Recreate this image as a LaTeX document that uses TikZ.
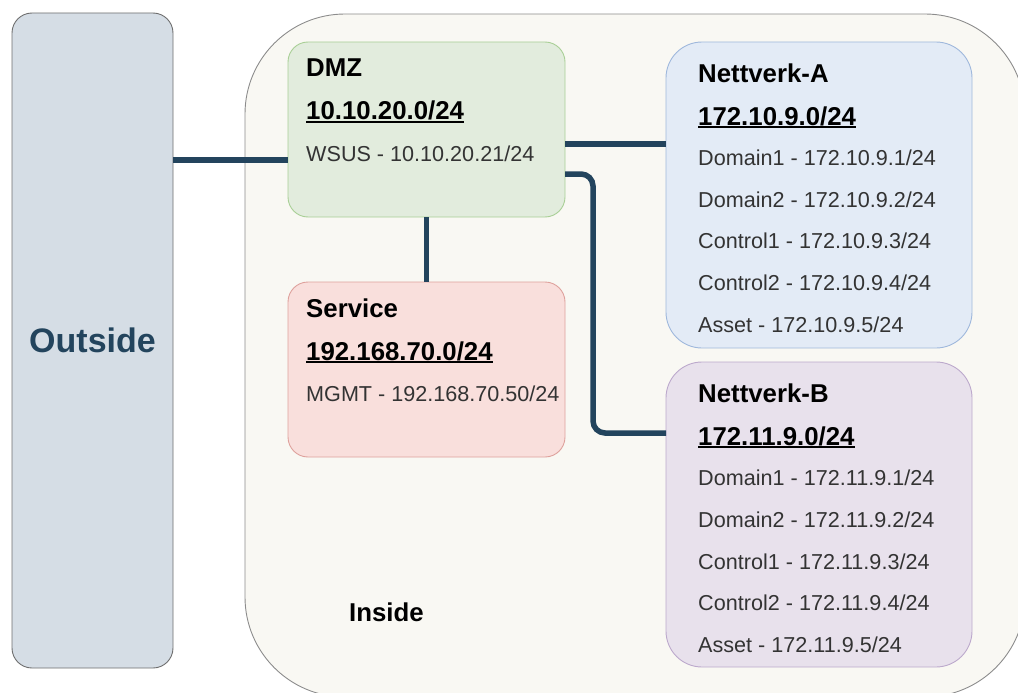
\documentclass[tikz,border=0pt]{standalone}
\usepackage{fontspec}
\setmainfont{Liberation Sans}

\definecolor{outfill}{HTML}{D5DDE5}
\definecolor{outdraw}{HTML}{6E6E6E}
\definecolor{outtext}{HTML}{23445D}
\definecolor{infill}{HTML}{F9F8F3}
\definecolor{indraw}{HTML}{8C8C8C}
\definecolor{dmzfill}{HTML}{E2ECDD}
\definecolor{dmzdraw}{HTML}{A9CF96}
\definecolor{srvfill}{HTML}{F9DFDC}
\definecolor{srvdraw}{HTML}{DEA19C}
\definecolor{afill}{HTML}{E3EBF6}
\definecolor{adraw}{HTML}{9FB8DC}
\definecolor{bfill}{HTML}{E8E1EC}
\definecolor{bdraw}{HTML}{BCA9CC}
\definecolor{linkcol}{HTML}{23445D}
\definecolor{bodygray}{HTML}{333333}

% subnet address with a heavy underline just below the baseline
\newcommand\netaddr[1]{\sbox0{#1}\rlap{\vrule width\wd0 height -1pt depth 2.8pt}\usebox0}

\tikzset{
  zone/.style={draw, rectangle, rounded corners=20pt, anchor=north west,
    inner sep=0pt, outer sep=0pt, line width=0.9pt},
  titletext/.style={anchor=base west, inner sep=0pt,
    font=\fontsize{25.8}{30}\selectfont\bfseries},
  bodytext/.style={anchor=base west, inner sep=0pt, text=bodygray,
    font=\fontsize{21.6}{26}\selectfont},
  link/.style={draw=linkcol, line width=5.5pt},
}

\begin{document}
\begin{tikzpicture}[x=1pt, y=-1pt]
\clip (0,0) rectangle (1018,693);
\useasboundingbox (0,0) rectangle (1018,693);

% outer zones
\node[zone, fill=infill, draw=indraw, rounded corners=100pt,
  minimum width=780pt, minimum height=683pt] (inside) at (245,14) {};
\node[zone, fill=outfill, draw=outdraw,
  minimum width=161pt, minimum height=655pt] (outside) at (12,13) {};

% network segments
\node[zone, fill=dmzfill, draw=dmzdraw,
  minimum width=277pt, minimum height=175pt] (dmz) at (288,42) {};
\node[zone, fill=srvfill, draw=srvdraw,
  minimum width=277pt, minimum height=175pt] (service) at (288,282) {};
\node[zone, fill=afill, draw=adraw, rounded corners=36pt,
  minimum width=306pt, minimum height=306pt] (neta) at (666,42) {};
\node[zone, fill=bfill, draw=bdraw, rounded corners=36pt,
  minimum width=306pt, minimum height=305pt] (netb) at (666,362) {};

% connection points on the DMZ and segment borders
\coordinate (dmzin)  at ([yshift=-30.5pt]dmz.west);
\coordinate (dmzouta) at ([yshift=-14.5pt]dmz.east);
\coordinate (dmzoutb) at ([yshift=-44.5pt]dmz.east);
\coordinate (netbin) at ([yshift=81.5pt]netb.west);

% links
\draw[link] (outside.east |- dmzin) -- (dmzin);
\draw[link] (dmzouta) -- (neta.west |- dmzouta);
\draw[link, rounded corners=12pt] (dmzoutb) -- ++(28,0) |- (netbin);
\draw[link] (dmz.south) -- (service.north);

% zone labels
\node[font=\fontsize{34}{40}\selectfont\bfseries, text=outtext] (outlabel)
  at (outside.center) {Outside};
\node[titletext] (inlabel) at (349,621) {Inside};

% DMZ
\node[titletext] (dmzt) at (306,77) {DMZ};
\node[titletext] (dmzs) at (306,120) {\netaddr{10.10.20.0/24}};
\node[bodytext]  (dmz1) at (306,161.7) {WSUS - 10.10.20.21/24};

% Service
\node[titletext] (srvt) at (306,317) {Service};
\node[titletext] (srvs) at (306,360) {\netaddr{192.168.70.0/24}};
\node[bodytext]  (srv1) at (306,401.7) {MGMT - 192.168.70.50/24};

% Nettverk-A
\node[titletext] (at) at (698,82) {Nettverk-A};
\node[titletext] (as) at (698,125) {\netaddr{172.10.9.0/24}};
\node[bodytext] (a1) at (698,165.7) {Domain1 - 172.10.9.1/24};
\node[bodytext] (a2) at (698,207.7) {Domain2 - 172.10.9.2/24};
\node[bodytext] (a3) at (698,248.7) {Control1 - 172.10.9.3/24};
\node[bodytext] (a4) at (698,290.7) {Control2 - 172.10.9.4/24};
\node[bodytext] (a5) at (698,332.7) {Asset - 172.10.9.5/24};

% Nettverk-B
\node[titletext] (bt) at (698,402) {Nettverk-B};
\node[titletext] (bs) at (698,445) {\netaddr{172.11.9.0/24}};
\node[bodytext] (b1) at (698,485.7) {Domain1 - 172.11.9.1/24};
\node[bodytext] (b2) at (698,527.7) {Domain2 - 172.11.9.2/24};
\node[bodytext] (b3) at (698,569.7) {Control1 - 172.11.9.3/24};
\node[bodytext] (b4) at (698,610.7) {Control2 - 172.11.9.4/24};
\node[bodytext] (b5) at (698,652.7) {Asset - 172.11.9.5/24};
\end{tikzpicture}
\end{document}
